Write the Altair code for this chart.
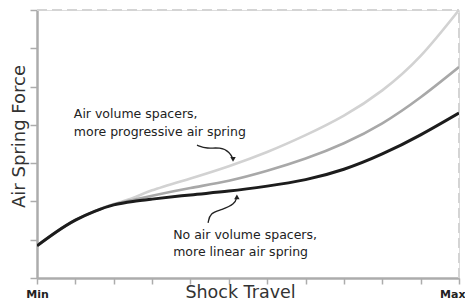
import altair as alt
import pandas as pd

# Curve data (x in tick units 0..11, y in tick units 0..7)
xs = [0, 0.5, 1, 1.5, 2, 2.5, 3, 4, 5, 6, 7, 8, 9, 10, 11]
no_spacers = [0.84, 1.20, 1.51, 1.74, 1.91, 2.00, 2.06, 2.17, 2.27, 2.40, 2.57, 2.84, 3.24, 3.74, 4.31]
some_spacers = [0.84, 1.20, 1.51, 1.74, 1.92, 2.04, 2.15, 2.35, 2.54, 2.80, 3.12, 3.52, 4.04, 4.72, 5.51]
more_spacers = [0.84, 1.20, 1.51, 1.74, 1.93, 2.09, 2.29, 2.60, 2.92, 3.29, 3.73, 4.24, 4.90, 5.80, 7.00]

series_names = ["more", "some", "none"]
series_colors = ["#d2d2d2", "#a8a8a8", "#1c1c1c"]
series_widths = [2.6, 2.6, 3.0]

x_ticks = list(range(0, 12))
y_ticks = list(range(0, 8))

# Annotation texts
ann_text = ["Air volume spacers,", "more progressive air spring",
            "No air volume spacers,", "more linear air spring"]
ann_x = [0.96, 0.96, 3.55, 3.55]
ann_y = [4.28, 3.81, 1.12, 0.68]

# Curly arrow paths
arrow1_x = [4.17, 4.43, 4.77, 5.03, 5.11]
arrow1_y = [3.47, 3.37, 3.42, 3.29, 3.10]
arrow2_x = [4.46, 4.51, 4.82, 5.16, 5.21]
arrow2_y = [1.44, 1.70, 1.78, 1.93, 2.12]

FONT = "DejaVu Sans"

rows = []
for name, vals in zip(series_names, [more_spacers, some_spacers, no_spacers]):
    for x, y in zip(xs, vals):
        rows.append({"x": x, "y": y, "s": name})
df = pd.DataFrame(rows)

xscale = alt.Scale(domain=[0, 11], nice=False, zero=False)
yscale = alt.Scale(domain=[0, 7], nice=False, zero=False)

x_axis = alt.Axis(
    values=x_ticks, grid=False, domainColor="#acacac", domainWidth=2.5,
    tickColor="#acacac", tickWidth=1.5, tickSize=6,
    labelExpr="datum.value == 0 ? 'Min' : (datum.value == 11 ? 'Max' : '')",
    labelFont=FONT, labelFontSize=11, labelFontWeight="bold", labelColor="#222",
    labelPadding=13, labelBaseline="alphabetic", labelFlush=False, labelOverlap=False,
    labelAlign=alt.ExprRef(expr="datum.value == 11 ? 'right' : 'center'"),
    labelOffset=alt.ExprRef(expr="datum.value == 11 ? 6 : 0"),
    title="Shock Travel", titleFont=FONT, titleFontSize=17.5, titleFontWeight="normal",
    titleColor="#333", titleX=203, titleY=19, titleAlign="center", titleBaseline="alphabetic",
)
y_axis = alt.Axis(
    values=y_ticks, grid=False, domainColor="#acacac", domainWidth=2.5,
    tickColor="#acacac", tickWidth=1.5, tickSize=7, labels=False,
    title="Air Spring Force", titleFont=FONT, titleFontSize=18, titleFontWeight="normal",
    titleColor="#333", titleX=-13, titleY=126, titleAlign="center", titleBaseline="alphabetic",
)

X = lambda: alt.X("x:Q", scale=xscale, axis=x_axis)
Y = lambda: alt.Y("y:Q", scale=yscale, axis=y_axis)

lines = []
for name, col, w in zip(series_names, series_colors, series_widths):
    lines.append(
        alt.Chart(df[df.s == name]).mark_line(
            color=col, strokeWidth=w, interpolate="natural", clip=True
        ).encode(x=X(), y=Y())
    )

top_rule = alt.Chart(pd.DataFrame({"x": [0], "x2": [11], "y": [7]})).mark_rule(
    color="#d4d4d4", strokeWidth=2, strokeDash=[10, 5]
).encode(x=X(), x2="x2:Q", y=Y())

right_rule = alt.Chart(pd.DataFrame({"x": [11], "y": [0], "y2": [7]})).mark_rule(
    color="#d4d4d4", strokeWidth=2, strokeDash=[10, 5]
).encode(x=X(), y=Y(), y2="y2:Q")

ann_df = pd.DataFrame({"t": ann_text, "x": ann_x, "y": ann_y})
texts = alt.Chart(ann_df).mark_text(
    align="left", baseline="middle", font=FONT, fontSize=12.5, color="#222"
).encode(x=X(), y=Y(), text="t:N")

arr_rows = []
for i, (x, y) in enumerate(zip(arrow1_x, arrow1_y)):
    arr_rows.append({"x": x, "y": y, "a": "a1", "o": i})
for i, (x, y) in enumerate(zip(arrow2_x, arrow2_y)):
    arr_rows.append({"x": x, "y": y, "a": "a2", "o": i})
arr_df = pd.DataFrame(arr_rows)

arrows = alt.Chart(arr_df).mark_line(
    color="#222", strokeWidth=1.3, interpolate="basis"
).encode(x=X(), y=Y(), detail="a:N", order="o:Q")

heads_df = pd.DataFrame({
    "x": [arrow1_x[-1], arrow2_x[-1]],
    "y": [arrow1_y[-1], arrow2_y[-1]],
    "shape": ["triangle-down", "triangle-up"],
})
heads = alt.Chart(heads_df).mark_point(
    filled=True, color="#222", size=30, opacity=1
).encode(x=X(), y=Y(), shape=alt.Shape("shape:N", scale=None))

chart = alt.layer(top_rule, right_rule, *lines, arrows, heads, texts).properties(
    width=422, height=268,
    autosize=alt.AutoSizeParams(type="none"),
    padding={"left": 29, "top": 2, "right": 6, "bottom": 22},
).configure_view(stroke=None).configure(background="white")

chart.save("out.html", embed_options={"renderer": "svg", "actions": False})
